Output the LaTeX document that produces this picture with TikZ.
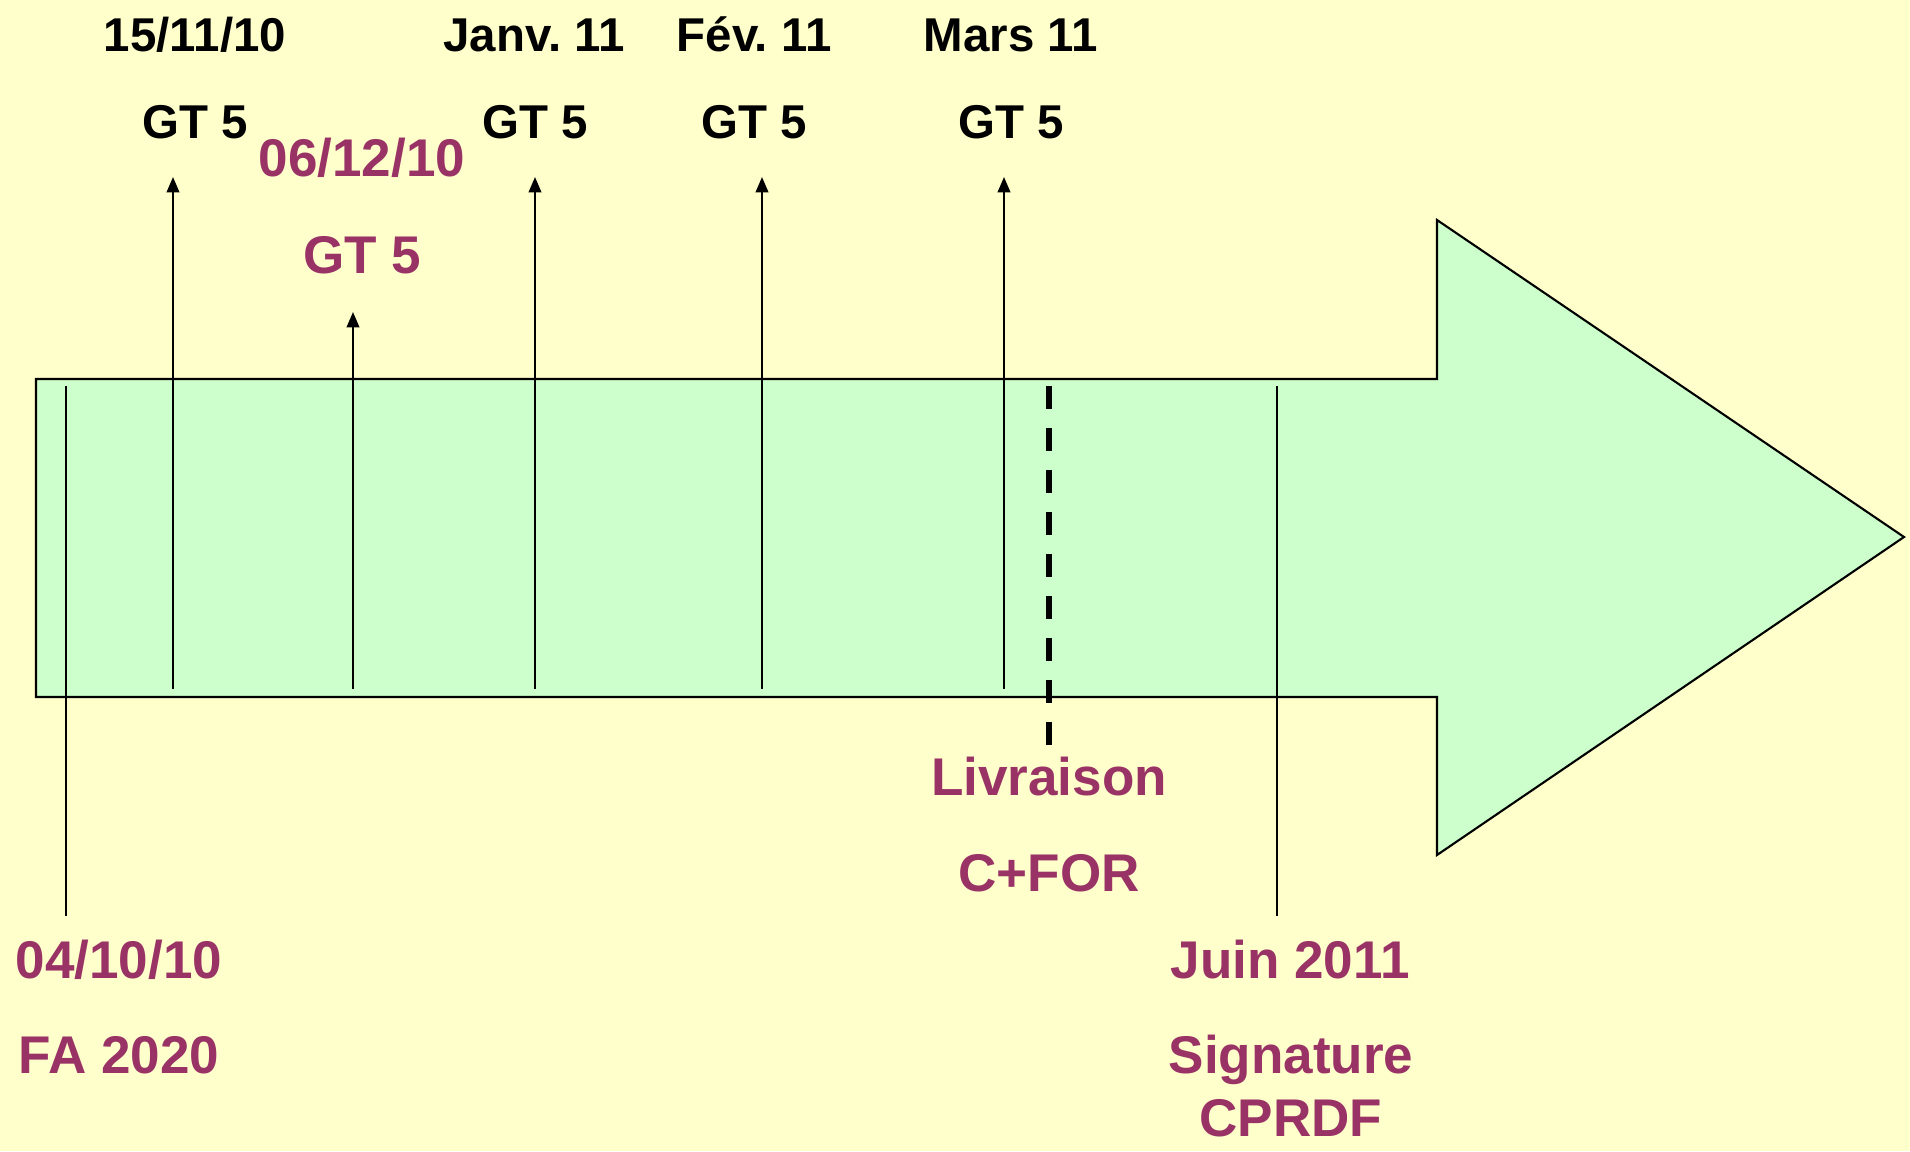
\documentclass[tikz,border=0pt]{standalone}
\usepackage{fontspec}
\setmainfont{Liberation Sans}
\usetikzlibrary{arrows.meta}
\definecolor{fond}{HTML}{FFFFCC}
\definecolor{vert}{HTML}{CCFFCC}
\definecolor{prune}{HTML}{993366}
\frenchspacing

\begin{document}
\begin{tikzpicture}[x=0.1mm,y=-0.1mm,
    noir/.style={font=\bfseries\fontsize{13.5}{16}\selectfont,text height=9.7pt,text depth=0pt,inner sep=0pt},
    rose/.style={font=\bfseries\fontsize{15.1}{18}\selectfont,text=prune,text height=10.8pt,text depth=0pt,inner sep=0pt},
    jalon/.style={line width=0.6pt},
    gt/.style={line width=0.6pt,-{Triangle[width=3.6pt,length=4.4pt]}},
    livr/.style={line width=1.5pt,dash pattern=on 6.5pt off 5.45pt}]
            % fond et fleche
            \fill[fond] (0,0) rectangle (1910,1151);
            \filldraw[fill=vert,line width=0.6pt] (36,379) -- (1437,379) -- (1437,220) -- (1904,537)
                -- (1437,855) -- (1437,697) -- (36,697) -- cycle;
            % textes du haut
            \node[noir] (d1) at (195,34) {15/11/10};
            \node[noir] (g1) at (195,121) {GT 5};
            \node[rose] (d2) at (362,158) {06/12/10};
            \node[rose] (g2) at (362,255) {GT 5};
            \node[noir] (d3) at (534,34) {Janv. 11};
            \node[noir] (g3) at (535,121) {GT 5};
            \node[noir] (d4) at (754,34) {Fév. 11};
            \node[noir] (g4) at (754,121) {GT 5};
            \node[noir] (d5) at (1011,34) {Mars 11};
            \node[noir] (g5) at (1011,121) {GT 5};
            % textes du bas
            \node[rose] (fa) at (119,960) {04/10/10};
            \node[rose] (fa2) at (119,1055) {FA 2020};
            \node[rose] (li) at (1049,777) {Livraison};
            \node[rose] (li2) at (1049,873) {C+FOR};
            \node[rose] (ju) at (1290,960) {Juin 2011};
            \node[rose] (ju2) at (1291,1055) {Signature};
            \node[rose] (ju3) at (1291,1118) {CPRDF};
            % bouts des traits
            \coordinate (a1) at (173,689); \coordinate (b1) at (173,177);
            \coordinate (a2) at (353,689); \coordinate (b2) at (353,312);
            \coordinate (a3) at (535,689); \coordinate (b3) at (535,177);
            \coordinate (a4) at (762,689); \coordinate (b4) at (762,177);
            \coordinate (a5) at (1004,689); \coordinate (b5) at (1004,177);
            \coordinate (fh) at (66,386); \coordinate (fb) at (66,916);
            \coordinate (lh) at (1049,386); \coordinate (lb) at (1049,746);
            \coordinate (jh) at (1277,386); \coordinate (jb) at (1277,916);
            % traits
            \draw[gt] (a1) -- (b1);
            \draw[gt] (a2) -- (b2);
            \draw[gt] (a3) -- (b3);
            \draw[gt] (a4) -- (b4);
            \draw[gt] (a5) -- (b5);
            \draw[jalon] (fh) -- (fb);
            \draw[jalon] (jh) -- (jb);
            \draw[livr] (lh) -- (lb);
\end{tikzpicture}
\end{document}
